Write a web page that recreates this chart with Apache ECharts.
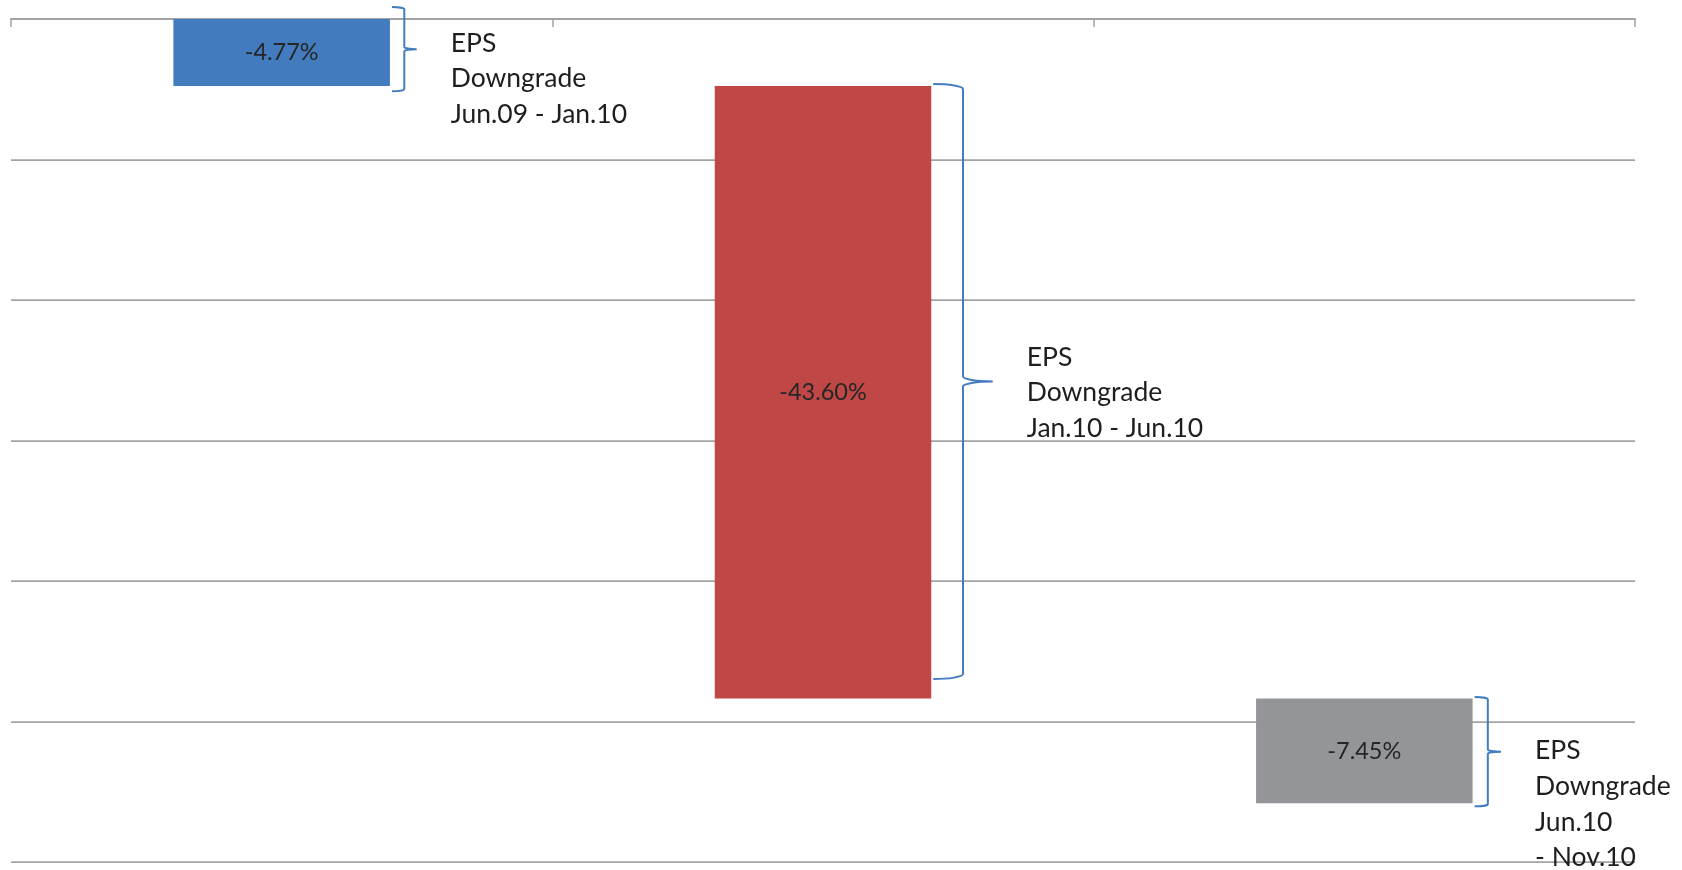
<!DOCTYPE html>
<html>
<head>
<meta charset="utf-8">
<title>EPS Downgrade Waterfall</title>
<script src="https://cdn.jsdelivr.net/npm/echarts@6/dist/echarts.min.js"></script>
<style>
  html, body { margin: 0; padding: 0; background: #ffffff; }
  #chart { width: 1682px; height: 870px; }
</style>
</head>
<body>
<div id="chart"></div>
<script>
// Periods of the waterfall
const categories = ['Jun.09 - Jan.10', 'Jan.10 - Jun.10', 'Jun.10 - Nov.10'];
// Change in EPS over each period (%)
const changes = [-4.77, -43.60, -7.45];
// Bar fill for each period
const barColors = ['#427CBE', '#BF4745', '#949599'];

// Brace annotations: value range spanned by each brace and the value at the note's first line
const braceTop = [0.85, -4.63, -48.26];
const braceBottom = [-5.15, -46.98, -56.04];
const noteAnchor = [-1.72, -24.07, -52.08];
const notes = [
  'EPS\nDowngrade\nJun.09 - Jan.10',
  'EPS\nDowngrade\nJan.10 - Jun.10',
  'EPS\nDowngrade\nJun.10\n- Nov.10'
];

// Value axis ticks
const yMin = -60, yMax = 0, yStep = 10;

// Invisible base of each floating bar = running total before the period
const bases = [];
let running = 0;
changes.forEach(function (c) { bases.push(running); running += c; });

const FONT = 'Lato, "Open Sans", sans-serif';
const BRACE_COLOR = '#447CC1';

const chart = echarts.init(document.getElementById('chart'), null, { renderer: 'canvas' });

function renderBrace(params, api) {
  const cat = api.value(0);
  const p0 = api.coord([cat, api.value(1)]);
  const p1 = api.coord([cat, api.value(2)]);
  const pa = api.coord([cat, api.value(3)]);
  const band = api.size([1, 0])[0];
  const cx = p0[0];
  const topY = p0[1], botY = p1[1];
  const h = botY - topY;
  const hw = 9.5 + 0.034 * h;
  const ry = hw / 6;
  const k = 0.5523;
  const hookX = cx + band * 0.2 + 2;
  const vx = hookX + hw;
  const tipX = vx + hw;
  const midY = (topY + botY) / 2;
  const d = [
    'M', hookX, topY,
    'C', hookX + k * hw, topY, vx, topY + ry - k * ry, vx, topY + ry,
    'L', vx, midY - ry,
    'C', vx, midY - ry + k * ry, tipX - k * hw, midY, tipX, midY,
    'C', tipX - k * hw, midY, vx, midY + ry - k * ry, vx, midY + ry,
    'L', vx, botY - ry,
    'C', vx, botY - ry + k * ry, hookX + k * hw, botY, hookX, botY
  ].join(' ');
  const lh = 35.7;
  return {
    type: 'group',
    children: [
      {
        type: 'path',
        shape: { pathData: d },
        style: { fill: null, stroke: BRACE_COLOR, lineWidth: 2 }
      },
      {
        type: 'text',
        style: {
          x: tipX + 34,
          y: pa[1] - lh / 2,
          text: notes[params.dataIndex],
          font: '26.5px ' + FONT,
          fill: '#1e1e1e',
          lineHeight: lh,
          align: 'left',
          verticalAlign: 'top'
        }
      }
    ]
  };
}

const option = {
  backgroundColor: '#ffffff',
  animation: false,
  grid: { left: 11, right: 47, top: 19, bottom: 8, containLabel: false },
  xAxis: {
    type: 'category',
    data: categories,
    position: 'top',
    boundaryGap: true,
    axisLine: { show: true, onZero: false, lineStyle: { color: '#a3a3a3', width: 2 } },
    axisTick: { show: true, inside: true, length: 8, lineStyle: { color: '#a3a3a3', width: 1.5 } },
    axisLabel: { show: false },
    splitLine: { show: false }
  },
  yAxis: {
    type: 'value',
    min: yMin,
    max: yMax,
    interval: yStep,
    axisLine: { show: false },
    axisTick: { show: false },
    axisLabel: { show: false },
    splitLine: { show: true, lineStyle: { color: '#a3a3a3', width: 1.75 } }
  },
  series: [
    {
      name: 'base',
      type: 'bar',
      stack: 'wf',
      barWidth: '40%',
      silent: true,
      itemStyle: { color: 'transparent' },
      data: bases
    },
    {
      name: 'change',
      type: 'bar',
      stack: 'wf',
      barWidth: '40%',
      data: changes.map(function (v, i) {
        return { value: v, itemStyle: { color: barColors[i] } };
      }),
      label: {
        show: true,
        position: 'inside',
        color: '#262626',
        fontFamily: FONT,
        fontSize: 23.5,
        formatter: function (p) { return p.value.toFixed(2) + '%'; }
      }
    },
    {
      name: 'braces',
      type: 'custom',
      clip: false,
      silent: true,
      renderItem: renderBrace,
      data: categories.map(function (c, i) {
        return [i, braceTop[i], braceBottom[i], noteAnchor[i]];
      }),
      z: 5
    }
  ]
};

chart.setOption(option);
</script>
</body>
</html>
